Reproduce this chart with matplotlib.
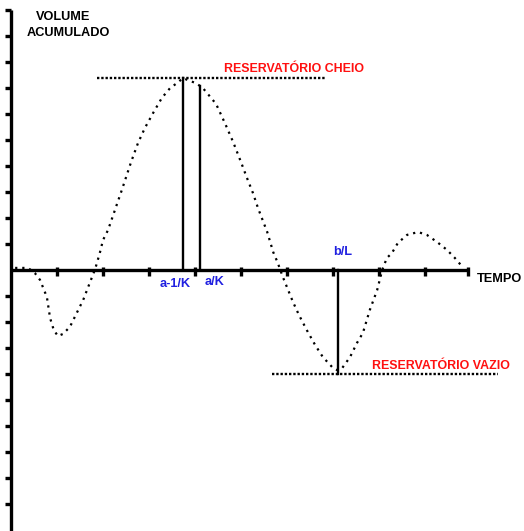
import matplotlib
matplotlib.use('Agg')
import matplotlib.pyplot as plt

plt.rcParams['font.family'] = ['Liberation Sans', 'DejaVu Sans']

# curve (x in time ticks, y in volume ticks)
curve_x = [0.09, 0.37, 0.52, 0.63, 0.78, 0.85, 0.93, 1.02, 1.13, 1.28, 1.43, 1.57, 1.67,
           1.83, 1.93, 2.00, 2.11, 2.26, 2.41, 2.61, 2.76, 2.91, 3.09, 3.28, 3.46, 3.61,
           3.74, 3.89, 4.02, 4.17, 4.35, 4.46, 4.65, 4.83, 5.00, 5.13, 5.26, 5.37, 5.57,
           5.70, 5.80, 5.91, 6.13, 6.26, 6.43, 6.61, 6.78, 6.98, 7.09, 7.20, 7.37, 7.52,
           7.65, 7.80, 7.96, 8.07, 8.17, 8.28, 8.41, 8.61, 8.85, 9.04, 9.26, 9.48, 9.65, 9.80]
curve_y = [0.08, 0.08, -0.12, -0.38, -1.04, -1.85, -2.31, -2.54, -2.46, -2.19, -1.65, -1.15, -0.69,
           0.04, 0.65, 1.15, 1.54, 2.31, 3.08, 4.15, 4.88, 5.46, 6.04, 6.62, 7.00, 7.19,
           7.38, 7.27, 7.19, 7.00, 6.62, 6.38, 5.65, 4.92, 4.15, 3.54, 2.96, 2.38, 1.46,
           0.69, 0.27, -0.27, -1.23, -1.73, -2.31, -2.88, -3.35, -3.73, -3.85, -3.77, -3.35, -2.81,
           -2.42, -1.54, -0.77, 0.00, 0.46, 0.65, 1.04, 1.35, 1.46, 1.35, 1.08, 0.77, 0.46, 0.15]

x_ticks = [1, 2, 3, 4, 5, 6, 7, 8, 9, 9.93]
y_ticks = [-9, -8, -7, -6, -5, -4, -3, -2, -1, 1, 2, 3, 4, 5, 6, 7, 8, 9, 10]

full_level = 7.38
empty_level = -4.0
a1k_x, a1k_top = 3.74, 7.38
ak_x, ak_top = 4.11, 7.08
bl_x = 7.11

fig = plt.figure(figsize=(5.24, 5.31), dpi=100)
ax = fig.add_axes([0, 0, 1, 1])
ax.set_xlim(-11 / 46, 513 / 46)
ax.set_ylim(-261 / 26, 270 / 26)
ax.axis('off')

axis_lw = 2.4
# axes
ax.plot([0, 0], [-10.1, 10], color='black', lw=axis_lw, solid_capstyle='butt')
ax.plot([0, x_ticks[-1]], [0, 0], color='black', lw=axis_lw, solid_capstyle='butt')
for t in x_ticks:
    ax.plot([t, t], [-0.22, 0.12], color='black', lw=axis_lw, solid_capstyle='butt')
for t in y_ticks:
    ax.plot([-0.12, 0], [t, t], color='black', lw=axis_lw, solid_capstyle='butt')

# accumulated volume curve
ax.plot(curve_x, curve_y, color='black', lw=1.6, linestyle=(0, (1, 2.2)))

# full / empty reservoir levels
ax.plot([1.87, 6.83], [full_level, full_level], color='black', lw=1.7, linestyle=(0, (1, 0.8)))
ax.plot([5.67, 10.59], [empty_level, empty_level], color='black', lw=1.7, linestyle=(0, (1, 0.8)))

# vertical markers
ax.plot([a1k_x, a1k_x], [0, a1k_top], color='black', lw=1.7)
ax.plot([ak_x, ak_x], [0, ak_top], color='black', lw=1.7)
ax.plot([bl_x, bl_x], [0, empty_level], color='black', lw=1.7)

fs = 9.2
ax.text(1.13, 9.73, 'VOLUME', ha='center', va='center', fontsize=fs, fontweight='bold')
ax.text(1.24, 9.12, 'ACUMULADO', ha='center', va='center', fontsize=fs, fontweight='bold')
ax.text(10.13, -0.35, 'TEMPO', ha='left', va='center', fontsize=fs, fontweight='bold')
ax.text(4.63, 7.73, 'RESERVATÓRIO CHEIO', ha='left', va='center', fontsize=fs - 0.3,
        fontweight='bold', color='#ff1010')
ax.text(7.85, -3.69, 'RESERVATÓRIO VAZIO', ha='left', va='center', fontsize=fs - 0.3,
        fontweight='bold', color='#ff1010')
ax.text(3.57, -0.54, 'a-1/K', ha='center', va='center', fontsize=fs, fontweight='bold', color='#2020e0')
ax.text(4.43, -0.46, 'a/K', ha='center', va='center', fontsize=fs, fontweight='bold', color='#2020e0')
ax.text(7.2, 0.69, 'b/L', ha='center', va='center', fontsize=fs, fontweight='bold', color='#2020e0')

fig.savefig('out.png', dpi=100)
